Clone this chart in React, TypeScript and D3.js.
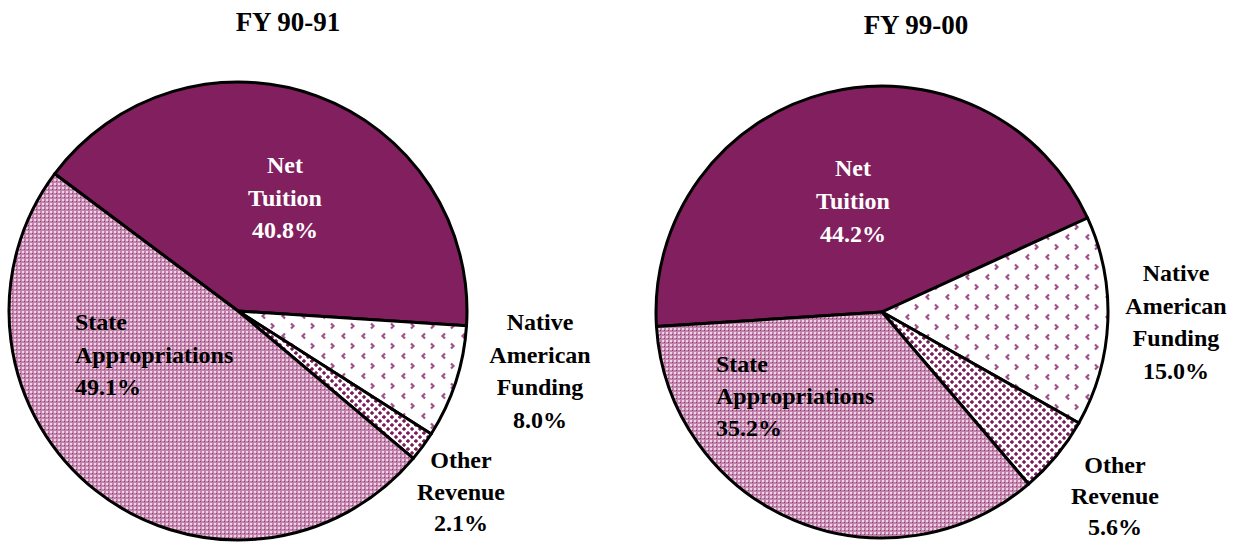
import * as d3 from "d3";
import React, {useEffect, useRef} from "react";

const categories = ["Net Tuition", "Native American Funding", "Other Revenue", "State Appropriations"];
const fy9091 = [40.8, 8.0, 2.1, 49.1];
const fy9900 = [44.2, 15.0, 5.6, 35.2];
const titles = ["FY 90-91", "FY 99-00"];

const labelLines = [
    ["Net", "Tuition"],
    ["Native", "American", "Funding"],
    ["Other", "Revenue"],
    ["State", "Appropriations"],
];

// layout of each pie (center, radius, rotation, label anchors relative to center)
const pies = [
    {
        values: fy9091, title: titles[0], cx: 238, cy: 311, r: 229, start: -53.2, titleX: 288, titleY: 22,
        labels: [
            {x: 47, y: -146, anchor: "middle", white: true, gap: 32.5},
            {x: 302, y: 11, anchor: "middle", gap: 32.5},
            {x: 223, y: 149, anchor: "middle", gap: 31.5},
            {x: -163, y: 11, anchor: "start", gap: 32.5},
        ]
    },
    {
        values: fy9900, title: titles[1], cx: 882, cy: 312, r: 226, start: -93.7, titleX: 916, titleY: 25,
        labels: [
            {x: -29, y: -144, anchor: "middle", white: true, gap: 33},
            {x: 294, y: -39, anchor: "middle", gap: 32.5},
            {x: 233, y: 153, anchor: "middle", gap: 31},
            {x: -166, y: 52, anchor: "start", gap: 32},
        ]
    },
];

const fills = ["#821f5e", "url(#pat-native)", "url(#pat-other)", "url(#pat-state)"];

const App = () => {
    const svgRef = useRef(null);

    useEffect(() => {
        document.body.style.margin = "0";
        const svgEl = d3.select(svgRef.current);
        svgEl.selectAll("*").remove();

        const defs = svgEl.append("defs");

        // checker pattern for State Appropriations
        const ps = defs.append("pattern").attr("id", "pat-state")
            .attr("patternUnits", "userSpaceOnUse").attr("width", 4).attr("height", 4);
        ps.append("rect").attr("width", 4).attr("height", 4).attr("fill", "#c283ad");
        ps.append("rect").attr("x", 0).attr("y", 0).attr("width", 2).attr("height", 2).attr("fill", "#ecd4e4");
        ps.append("rect").attr("x", 2).attr("y", 2).attr("width", 1).attr("height", 1).attr("fill", "#8e3a70");

        // chevrons for Native American Funding
        const pn = defs.append("pattern").attr("id", "pat-native")
            .attr("patternUnits", "userSpaceOnUse").attr("width", 20).attr("height", 20);
        pn.append("rect").attr("width", 20).attr("height", 20).attr("fill", "#fff");
        pn.append("path").attr("d", "M7,2.5 L4.5,5 L7,7.5").attr("fill", "none")
            .attr("stroke", "#a0508a").attr("stroke-width", 2.2);
        pn.append("path").attr("d", "M13,12.5 L15.5,15 L13,17.5").attr("fill", "none")
            .attr("stroke", "#a0508a").attr("stroke-width", 2.2);

        // diamonds for Other Revenue
        const po = defs.append("pattern").attr("id", "pat-other")
            .attr("patternUnits", "userSpaceOnUse").attr("width", 8).attr("height", 8);
        po.append("rect").attr("width", 8).attr("height", 8).attr("fill", "#fff");
        po.append("path").attr("d", "M2,-0.2 L4.2,2 L2,4.2 L-0.2,2 Z").attr("fill", "#7a1c58");
        po.append("path").attr("d", "M6,3.8 L8.2,6 L6,8.2 L3.8,6 Z").attr("fill", "#7a1c58");

        pies.forEach(p => {
            const g = svgEl.append("g").attr("transform", `translate(${p.cx},${p.cy})`);
            const startRad = p.start * Math.PI / 180;
            const pie = d3.pie<number>().sort(null).value(d => d)
                .startAngle(startRad).endAngle(startRad + 2 * Math.PI);
            const arc = d3.arc<d3.PieArcDatum<number>>().innerRadius(0).outerRadius(p.r);

            g.selectAll("path.slice")
                .data(pie(p.values))
                .enter()
                .append("path")
                .attr("class", "slice")
                .attr("d", arc)
                .attr("fill", (d, i) => fills[i])
                .attr("stroke", "#000")
                .attr("stroke-width", 3)
                .attr("stroke-linejoin", "round");

            svgEl.append("text")
                .attr("x", p.titleX).attr("y", p.titleY)
                .attr("text-anchor", "middle").attr("dy", "0.35em")
                .attr("font-family", "'Liberation Serif', 'Times New Roman', serif")
                .attr("font-weight", "bold").attr("font-size", 27)
                .text(p.title);

            p.labels.forEach((l, i) => {
                const lines = [...labelLines[i], `${p.values[i].toFixed(1)}%`];
                const t = g.append("text")
                    .attr("text-anchor", l.anchor)
                    .attr("font-family", "'Liberation Serif', 'Times New Roman', serif")
                    .attr("font-weight", "bold").attr("font-size", 24)
                    .attr("fill", l.white ? "#fff" : "#000");
                lines.forEach((s, j) => {
                    t.append("tspan").attr("x", l.x).attr("y", l.y + j * l.gap)
                        .attr("dy", "0.35em").text(s);
                });
            });
        });
    }, []);

    return (
        <svg ref={svgRef} width={1238} height={542} style={{display: "block"}}/>
    );
};

export default App;
